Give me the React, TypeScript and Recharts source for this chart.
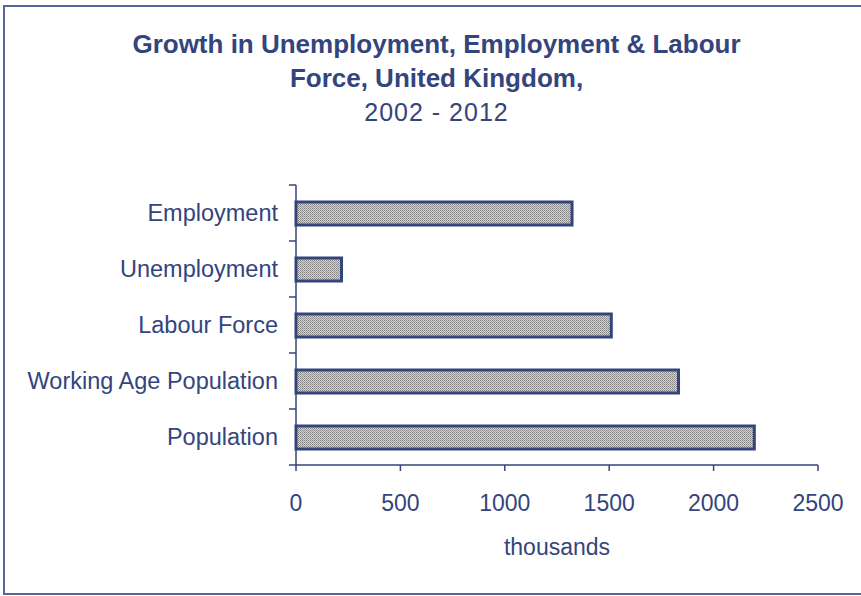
import React from 'react';
import { BarChart, Bar, XAxis, YAxis, Text } from 'recharts';

const categories = ['Employment', 'Unemployment', 'Labour Force', 'Working Age Population', 'Population'];
const growth = [1322, 218, 1510, 1832, 2195];
const xTicks = [0, 500, 1000, 1500, 2000, 2500];

const ink = '#34447c';
const font = '"Liberation Sans", Arial, sans-serif';
const labelGap = 18;

const data = categories.map((name, i) => ({ name, growth: growth[i] }));

// category label plus tick marks on the band edges (as the original axis has)
const CategoryTick = (props: any) => {
  const { x, y, payload, index } = props;
  const half = payload?.offset ?? 0;
  const axisX = x + labelGap;
  const last = index === categories.length - 1;
  return (
    <g>
      <line x1={axisX - 7} x2={axisX} y1={y - half} y2={y - half} stroke={ink} strokeWidth={1.5} />
      {last && (
        <line x1={axisX - 7} x2={axisX} y1={y + half} y2={y + half} stroke={ink} strokeWidth={1.5} />
      )}
      <Text x={x} y={y} textAnchor="end" verticalAnchor="middle" fill={ink} fontSize={23.5} fontFamily={font}>
        {payload.value}
      </Text>
    </g>
  );
};

export default function App() {
  return (
    <div
      style={{
        position: 'absolute',
        left: 0,
        top: 0,
        width: 861,
        height: 596,
        overflow: 'hidden',
        background: '#fff',
        fontFamily: font,
      }}
    >
      {/* frame */}
      <div
        style={{
          position: 'absolute',
          left: 3,
          top: 5,
          width: 880,
          height: 586,
          border: '2px solid #56659a',
        }}
      />
      <div
        style={{
          position: 'absolute',
          left: 0,
          width: 873,
          top: 27,
          textAlign: 'center',
          color: ink,
          lineHeight: '34px',
        }}
      >
        <div style={{ fontSize: 26, fontWeight: 700 }}>Growth in Unemployment, Employment &amp; Labour</div>
        <div style={{ fontSize: 26, fontWeight: 700 }}>Force, United Kingdom,</div>
        <div style={{ fontSize: 25, letterSpacing: 1 }}>2002 - 2012</div>
      </div>
      <div style={{ position: 'absolute', left: 0, top: 0 }}>
        <BarChart
          width={861}
          height={596}
          data={data}
          layout="vertical"
          margin={{ top: 185, right: 43, left: 0, bottom: 0 }}
          barCategoryGap={0}
        >
          <defs>
            <pattern id="stipple" width="2" height="2" patternUnits="userSpaceOnUse">
              <rect width="2" height="2" fill="#d2d2d2" />
              <rect x="0" y="0" width="1" height="1" fill="#828282" />
              <rect x="1" y="1" width="1" height="1" fill="#9c9c9c" />
            </pattern>
          </defs>
          <YAxis
            type="category"
            dataKey="name"
            width={296}
            axisLine={{ stroke: ink, strokeWidth: 1.5 }}
            tickLine={false}
            tickSize={0}
            tickMargin={labelGap}
            tick={<CategoryTick />}
          />
          <XAxis
            type="number"
            domain={[0, 2500]}
            ticks={xTicks}
            height={131}
            tickSize={6}
            tickMargin={24}
            axisLine={{ stroke: ink, strokeWidth: 1.5 }}
            tickLine={{ stroke: ink, strokeWidth: 1.5 }}
            tick={{ fill: ink, fontSize: 23, fontFamily: font }}
            label={{
              value: 'thousands',
              position: 'insideTop',
              offset: 74,
              fill: ink,
              fontSize: 23,
              fontFamily: font,
            }}
          />
          <Bar
            dataKey="growth"
            barSize={23}
            fill="url(#stipple)"
            stroke={ink}
            strokeWidth={3}
            isAnimationActive={false}
          />
        </BarChart>
      </div>
    </div>
  );
}
